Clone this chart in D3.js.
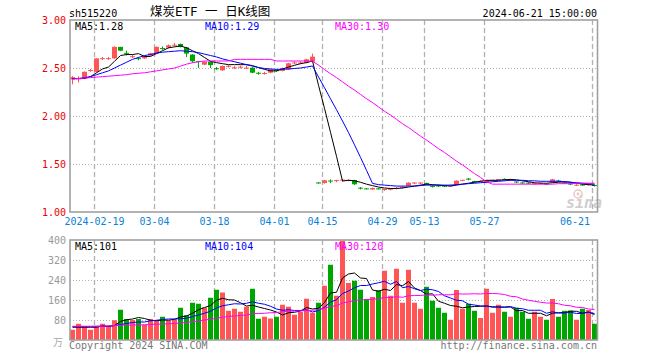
<!DOCTYPE html>
<html><head><meta charset="utf-8">
<script src="https://cdn.jsdelivr.net/npm/d3@7"></script>
<style>
body{margin:0;background:#fff}
svg{display:block}
text{font-family:"DejaVu Sans Mono","Noto Sans CJK SC",monospace}
</style>
</head><body>
<svg id="c" width="660" height="360"></svg>
<script>
const dates = ["02-05","02-06","02-07","02-08","02-19","02-20","02-21","02-22","02-23","02-26","02-27","02-28","02-29",
"03-01","03-04","03-05","03-06","03-07","03-08","03-11","03-12","03-13","03-14","03-15","03-18","03-19","03-20","03-21","03-22","03-25","03-26","03-27","03-28","03-29",
"04-01","04-02","04-03","04-08","04-09","04-10","04-11","04-12","04-15","04-16","04-17","04-18","04-19","04-22","04-23","04-24","04-25","04-26","04-29","04-30",
"05-06","05-07","05-08","05-09","05-10","05-13","05-14","05-15","05-16","05-17","05-20","05-21","05-22","05-23","05-24","05-27","05-28","05-29","05-30","05-31",
"06-03","06-04","06-05","06-06","06-07","06-11","06-12","06-13","06-14","06-17","06-18","06-19","06-20","06-21"];

const open = [2.38,2.385,2.40,2.472,2.46,2.595,2.595,2.60,2.72,2.655,2.615,2.60,2.60,2.632,2.653,2.705,2.712,2.735,2.75,2.715,
2.64,2.57,2.535,2.565,2.495,2.476,2.515,2.50,2.507,2.497,2.503,2.447,2.441,2.451,2.475,2.47,2.486,2.55,2.55,2.555,
2.566,1.305,1.302,1.325,1.325,1.33,1.325,1.333,1.25,1.242,1.235,1.242,1.233,1.232,1.245,1.255,1.274,1.30,1.30,1.302,
1.268,1.272,1.27,1.272,1.284,1.328,1.345,1.322,1.318,1.302,1.328,1.335,1.342,1.335,1.315,1.305,1.302,1.29,1.298,1.292,
1.31,1.325,1.305,1.292,1.278,1.282,1.283,1.277];
const close = [2.405,2.39,2.46,2.476,2.60,2.60,2.60,2.72,2.68,2.65,2.62,2.595,2.625,2.653,2.72,2.70,2.736,2.74,2.72,2.65,
2.57,2.565,2.565,2.53,2.49,2.521,2.52,2.503,2.51,2.50,2.451,2.444,2.444,2.486,2.47,2.50,2.549,2.555,2.555,2.59,
2.618,1.30,1.33,1.32,1.33,1.335,1.335,1.289,1.247,1.24,1.25,1.24,1.236,1.248,1.248,1.258,1.305,1.303,1.303,1.287,
1.265,1.27,1.268,1.275,1.326,1.333,1.34,1.31,1.32,1.333,1.333,1.34,1.338,1.338,1.31,1.30,1.30,1.30,1.30,1.29,
1.34,1.32,1.30,1.29,1.28,1.28,1.286,1.275];
const high = [2.415,2.415,2.465,2.49,2.60,2.615,2.615,2.725,2.72,2.68,2.635,2.615,2.63,2.66,2.725,2.725,2.745,2.76,2.755,2.72,
2.645,2.575,2.57,2.57,2.51,2.525,2.53,2.52,2.525,2.525,2.51,2.46,2.46,2.49,2.485,2.505,2.555,2.57,2.57,2.595,
2.65,1.31,1.335,1.34,1.335,1.34,1.34,1.335,1.26,1.25,1.255,1.25,1.24,1.25,1.26,1.27,1.31,1.31,1.31,1.305,
1.28,1.285,1.28,1.285,1.33,1.335,1.355,1.325,1.33,1.335,1.335,1.342,1.35,1.345,1.32,1.315,1.31,1.305,1.31,1.30,
1.345,1.335,1.315,1.30,1.29,1.29,1.295,1.285];
const low = [2.33,2.35,2.385,2.46,2.455,2.585,2.585,2.595,2.675,2.63,2.605,2.58,2.595,2.625,2.65,2.69,2.705,2.725,2.715,2.615,
2.555,2.50,2.53,2.50,2.48,2.47,2.505,2.49,2.495,2.49,2.445,2.43,2.43,2.445,2.46,2.465,2.48,2.54,2.54,2.55,
2.56,1.295,1.295,1.30,1.31,1.315,1.32,1.28,1.235,1.235,1.23,1.235,1.22,1.225,1.235,1.245,1.27,1.29,1.29,1.28,
1.255,1.26,1.26,1.265,1.28,1.32,1.33,1.305,1.31,1.30,1.32,1.325,1.33,1.325,1.30,1.295,1.29,1.285,1.29,1.28,
1.305,1.315,1.295,1.28,1.27,1.275,1.275,1.265];

const priceMA5 = [2.39,2.39,2.39,2.41,2.45,2.49,2.51,2.57,2.63,2.64,2.64,2.65,2.62,2.62,2.65,2.68,2.71,2.72,2.73,2.71,
2.68,2.65,2.61,2.57,2.556,2.545,2.535,2.535,2.535,2.535,2.525,2.504,2.486,2.47,2.47,2.49,2.51,2.528,2.545,2.556,
2.573,2.32,2.08,1.83,1.58,1.323,1.33,1.325,1.31,1.29,1.275,1.26,1.25,1.245,1.245,1.25,1.26,1.27,1.28,1.29,
1.285,1.28,1.275,1.27,1.28,1.29,1.30,1.31,1.32,1.33,1.33,1.33,1.335,1.34,1.335,1.325,1.315,1.305,1.30,1.30,
1.305,1.31,1.315,1.31,1.30,1.29,1.285,1.28];
const priceMA10 = [2.39,2.39,2.40,2.41,2.43,2.45,2.47,2.50,2.53,2.56,2.59,2.61,2.63,2.64,2.655,2.665,2.67,2.675,2.68,2.675,
2.67,2.66,2.645,2.63,2.615,2.595,2.58,2.565,2.55,2.535,2.52,2.505,2.495,2.49,2.486,2.486,2.49,2.495,2.50,2.51,
2.521,2.407,2.295,2.179,2.065,1.948,1.827,1.70,1.569,1.434,1.298,1.285,1.28,1.275,1.27,1.27,1.27,1.27,1.275,1.28,
1.28,1.28,1.28,1.28,1.285,1.29,1.295,1.30,1.305,1.31,1.315,1.32,1.325,1.33,1.33,1.33,1.325,1.325,1.32,1.32,
1.32,1.32,1.315,1.31,1.305,1.30,1.295,1.29];
const priceMA30 = [2.385,2.39,2.395,2.40,2.405,2.41,2.415,2.42,2.425,2.43,2.44,2.445,2.45,2.46,2.47,2.48,2.49,2.50,2.52,2.54,
2.555,2.565,2.573,2.573,2.573,2.573,2.573,2.59,2.59,2.59,2.59,2.59,2.59,2.59,2.573,2.573,2.573,2.573,2.573,2.573,
2.57,2.53,2.485,2.44,2.40,2.355,2.31,2.27,2.225,2.18,2.14,2.095,2.05,2.01,1.965,1.92,1.88,1.835,1.79,1.75,
1.705,1.66,1.62,1.575,1.53,1.49,1.445,1.40,1.36,1.315,1.29,1.29,1.29,1.29,1.29,1.29,1.29,1.29,1.29,1.29,
1.29,1.295,1.295,1.295,1.30,1.30,1.30,1.30];

const volume = [41,65,55,41,52,65,55,79,121,84,80,84,61,84,77,93,78,82,129,99,
149,145,130,169,201,190,117,125,113,133,205,85,93,86,93,141,133,101,112,165,
109,149,217,301,177,398,228,237,201,164,172,199,277,177,285,149,281,149,125,213,
157,129,109,81,200,125,145,117,88,205,109,141,113,93,129,113,85,113,93,81,
164,93,117,118,81,125,120,65];
const volMA5 = [51,51,51,51,51,56,54,58,74,81,84,90,86,79,77,80,79,83,92,96,
107,121,130,138,159,167,161,160,149,136,139,132,126,120,112,100,109,111,116,130,
124,127,150,188,191,248,264,268,248,246,200,195,203,198,222,217,234,208,198,183,
185,155,147,138,135,129,132,134,135,136,133,132,131,132,117,118,107,107,107,97,
107,109,110,115,115,107,112,102];
const volMA10 = [54,54,54,54,55,55,56,58,62,66,70,72,72,77,79,82,84,84,85,87,
94,100,107,115,128,137,141,145,144,147,153,147,143,135,124,119,121,118,118,121,
112,118,131,152,161,186,196,209,218,218,224,229,235,223,234,209,214,205,198,203,
201,194,177,168,159,157,143,140,136,136,131,132,132,134,127,125,119,119,119,107,
113,108,108,111,106,107,111,106];
const volMA30 = [55,55,55,55,55,55,56,58,59,59,60,60,61,62,63,64,65,66,68,70,
73,76,80,83,87,91,94,96,98,100,105,106,107,109,110,113,115,116,116,118,
119,122,127,134,137,148,153,158,160,162,163,165,170,170,173,171,177,178,178,181,
179,181,181,181,185,184,184,185,184,186,186,185,182,175,173,164,159,155,151,148,
148,145,139,137,131,130,124,122];

const priceTicks = [1.00, 1.50, 2.00, 2.50, 3.00];
const volTicks = [80, 160, 240, 320, 400];
const dateTicks = ["02-19","03-04","03-18","04-01","04-15","04-29","05-13","05-27","06-21"];
const dateTickLabels = ["2024-02-19","03-04","03-18","04-01","04-15","04-29","05-13","05-27","06-21"];
const priceMALabels = ["MA5:1.28","MA10:1.29","MA30:1.30"];
const volMALabels = ["MA5:101","MA10:104","MA30:120"];
const maColors = ["#000000","#0000ff","#ff00ff"];

const UP = "#ff5555", DOWN = "#00a600", GRID = "#b0b0b0", FRAME = "#a0a0a0";
const svg = d3.select("#c");
svg.append("rect").attr("width",660).attr("height",360).attr("fill","#fff");

const L = 70, R = 598;
const x = d3.scaleBand().domain(dates).range([L, R]).padding(0);
const bw = 5;
const cx = d => x(d) + 2.5;
const yP = d3.scaleLinear().domain([1, 3]).range([212, 20]);
const yV = d3.scaleLinear().domain([0, 400]).range([340, 240]);

// titles
svg.append("text").attr("x",69).attr("y",17).attr("font-size",10).attr("fill","#000").text("sh515220");
svg.append("text").attr("x",150).attr("y",16).attr("font-size",12.5).attr("fill","#000").text("煤炭ETF 一 日K线图");
svg.append("text").attr("x",597).attr("y",17).attr("font-size",10).attr("text-anchor","end").attr("fill","#000").text("2024-06-21 15:00:00");

function panel(yScale, ticks, top, bottom) {
  const g = svg.append("g");
  g.selectAll("line.h").data(ticks.filter(t => yScale(t) > top + 1 && yScale(t) < bottom - 1)).join("line")
    .attr("x1", L).attr("x2", R).attr("y1", t => Math.round(yScale(t)) + 0.5).attr("y2", t => Math.round(yScale(t)) + 0.5)
    .attr("stroke", GRID).attr("stroke-dasharray", "1,2");
  g.selectAll("line.v").data(dateTicks).join("line")
    .attr("x1", d => x(d) + 0.5).attr("x2", d => x(d) + 0.5).attr("y1", top).attr("y2", bottom)
    .attr("stroke", GRID).attr("stroke-width", 1.3).attr("stroke-dasharray", "5,3");
  return g;
}
panel(yP, priceTicks, 20, 212);
panel(yV, volTicks, 240, 340);

// watermark
const wm = svg.append("g").attr("opacity", 0.6);
wm.append("circle").attr("cx", 578).attr("cy", 194).attr("r", 4).attr("fill", "none").attr("stroke", "#e3a0a0").attr("stroke-width", 1.5);
wm.append("circle").attr("cx", 578).attr("cy", 194).attr("r", 1.4).attr("fill", "#e3a0a0");
wm.append("text").attr("x", 566).attr("y", 208).attr("font-size", 15).attr("font-style", "italic").attr("font-weight", "bold")
  .attr("font-family", "DejaVu Sans").attr("fill", "#b0b0b0").text("sina");

// candles
const idx = d3.range(dates.length);
const cg = svg.append("g");
idx.forEach(i => {
  const up = close[i] >= open[i];
  const col = up ? UP : DOWN;
  const xc = Math.round(cx(dates[i]) - 0.5) + 0.5;
  cg.append("line").attr("x1", xc).attr("x2", xc)
    .attr("y1", yP(high[i])).attr("y2", yP(low[i])).attr("stroke", col).attr("stroke-width", 1);
  const y1 = yP(Math.max(open[i], close[i])), y2 = yP(Math.min(open[i], close[i]));
  const h = Math.max(1, y2 - y1);
  cg.append("rect").attr("x", x(dates[i])).attr("y", h <= 1 ? (y1 + y2) / 2 - 0.5 : y1)
    .attr("width", bw).attr("height", h).attr("fill", col);
});

// price MA lines
const lineP = d3.line().x((d, i) => cx(dates[i])).y(d => yP(d));
[priceMA5, priceMA10, priceMA30].forEach((arr, j) => {
  svg.append("path").datum(arr).attr("d", lineP).attr("fill", "none").attr("stroke", maColors[j]).attr("stroke-width", 1);
});

// volume bars
svg.append("g").selectAll("rect").data(idx).join("rect")
  .attr("x", i => x(dates[i])).attr("y", i => yV(volume[i]))
  .attr("width", bw).attr("height", i => yV(0) - yV(volume[i]))
  .attr("fill", i => close[i] >= open[i] ? UP : DOWN);

const lineV = d3.line().x((d, i) => cx(dates[i])).y(d => yV(d));
[volMA5, volMA10, volMA30].forEach((arr, j) => {
  svg.append("path").datum(arr).attr("d", lineV).attr("fill", "none").attr("stroke", maColors[j]).attr("stroke-width", 1);
});

// frames
svg.append("rect").attr("x", 70).attr("y", 20).attr("width", 527.5).attr("height", 192)
  .attr("fill", "none").attr("stroke", FRAME).attr("stroke-width", 1.6);
svg.append("rect").attr("x", 70).attr("y", 240).attr("width", 527.5).attr("height", 100)
  .attr("fill", "none").attr("stroke", FRAME).attr("stroke-width", 1.6);

// price axis
const ap = svg.append("g").attr("transform", "translate(66,0)")
  .call(d3.axisLeft(yP).tickValues(priceTicks).tickFormat(d3.format(".2f")).tickSize(0).tickPadding(0));
ap.select(".domain").remove();
ap.selectAll("text").attr("font-size", 10).attr("fill", "#ee0000").attr("font-family", "DejaVu Sans Mono");

// volume axis
const av = svg.append("g").attr("transform", "translate(66,0)")
  .call(d3.axisLeft(yV).tickValues(volTicks).tickFormat(d3.format("d")).tickSize(0).tickPadding(0));
av.select(".domain").remove();
av.selectAll("text").attr("font-size", 10).attr("fill", "#999").attr("font-family", "DejaVu Sans Mono");
svg.append("text").attr("x", 63).attr("y", 346).attr("text-anchor", "end").attr("font-size", 10).attr("fill", "#aaa").text("万");

// date labels (last one kept inside the frame, right-aligned)
const nT = dateTicks.length;
svg.append("g").selectAll("text").data(dateTicks).join("text")
  .attr("x", (d, i) => i === nT - 1 ? x(d) - 2 : x(d) + 0.5).attr("y", 225)
  .attr("text-anchor", (d, i) => i === nT - 1 ? "end" : "middle").attr("font-size", 10)
  .attr("fill", "#0a82d6").text((d, i) => dateTickLabels[i]);

// MA legends
const legX = [75, 205, 335];
priceMALabels.forEach((t, j) => svg.append("text").attr("x", legX[j]).attr("y", 30).attr("font-size", 10).attr("fill", maColors[j]).text(t));
volMALabels.forEach((t, j) => svg.append("text").attr("x", legX[j]).attr("y", 249.5).attr("font-size", 10).attr("fill", maColors[j]).text(t));

// footer
svg.append("text").attr("x", 69).attr("y", 349).attr("font-size", 10).attr("fill", "#777").text("Copyright 2024 SINA.COM");
svg.append("text").attr("x", 597).attr("y", 349).attr("text-anchor", "end").attr("font-size", 10).attr("fill", "#777").text("http://finance.sina.com.cn");
</script>
</body></html>
